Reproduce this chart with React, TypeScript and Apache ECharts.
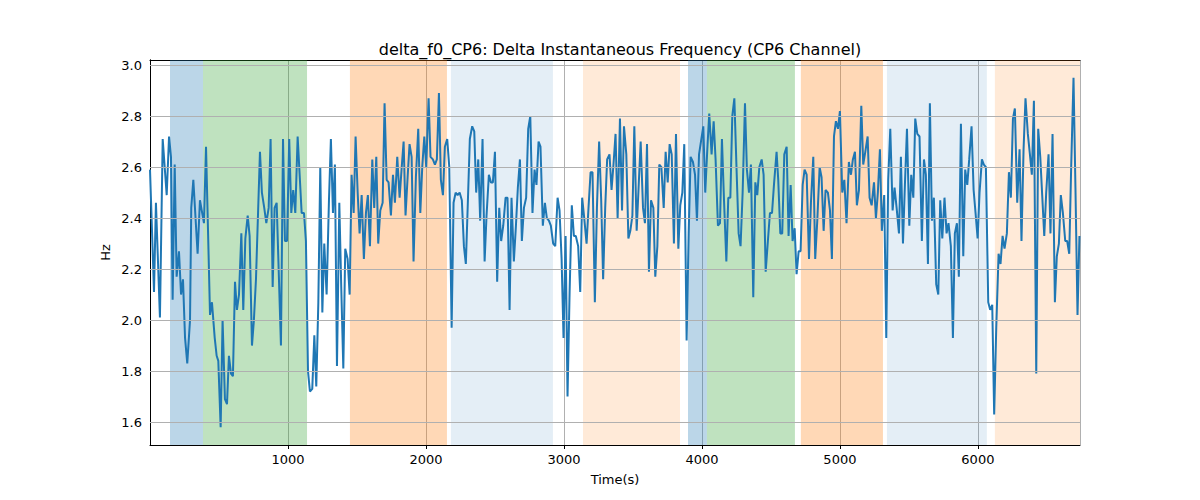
import React, { useEffect, useRef } from 'react'
import * as echarts from 'echarts'

const times = [0, 29, 43, 72, 92, 121, 138, 152, 164, 179, 193, 210, 225, 239, 254, 270, 290, 299, 314, 345, 362, 391, 406, 435, 449, 469, 483, 495, 512, 526, 543, 558, 572, 587, 601, 616, 630, 645, 662, 676, 691, 708, 722, 739, 753, 768, 797, 811, 828, 843, 860, 874, 889, 903, 918, 949, 964, 978, 993, 1009, 1024, 1038, 1053, 1070, 1099, 1116, 1130, 1145, 1159, 1176, 1191, 1205, 1220, 1234, 1249, 1263, 1280, 1297, 1311, 1326, 1340, 1355, 1372, 1386, 1401, 1415, 1432, 1447, 1461, 1476, 1490, 1505, 1519, 1534, 1550, 1565, 1579, 1594, 1611, 1625, 1640, 1654, 1669, 1686, 1700, 1715, 1729, 1746, 1761, 1775, 1792, 1809, 1823, 1838, 1852, 1867, 1881, 1896, 1910, 1927, 1944, 1959, 1973, 1988, 2002, 2019, 2033, 2050, 2065, 2079, 2094, 2108, 2123, 2137, 2154, 2169, 2186, 2200, 2215, 2229, 2244, 2260, 2275, 2289, 2304, 2318, 2335, 2350, 2364, 2379, 2393, 2410, 2425, 2439, 2456, 2471, 2485, 2500, 2516, 2531, 2545, 2560, 2577, 2591, 2606, 2620, 2637, 2652, 2666, 2681, 2695, 2710, 2726, 2741, 2756, 2772, 2787, 2801, 2816, 2830, 2847, 2862, 2876, 2891, 2905, 2922, 2937, 2954, 2968, 2983, 2997, 3012, 3026, 3041, 3057, 3072, 3086, 3103, 3118, 3132, 3147, 3164, 3178, 3193, 3207, 3224, 3239, 3255, 3270, 3284, 3299, 3313, 3330, 3345, 3359, 3374, 3389, 3406, 3421, 3435, 3452, 3467, 3481, 3496, 3510, 3527, 3541, 3556, 3573, 3587, 3602, 3616, 3631, 3648, 3662, 3677, 3691, 3706, 3723, 3737, 3752, 3766, 3781, 3797, 3812, 3829, 3843, 3858, 3872, 3889, 3904, 3918, 3935, 3950, 3964, 3979, 3993, 4010, 4024, 4039, 4053, 4070, 4085, 4099, 4116, 4131, 4145, 4160, 4177, 4191, 4206, 4220, 4235, 4251, 4266, 4280, 4295, 4312, 4326, 4341, 4355, 4372, 4387, 4401, 4416, 4433, 4447, 4462, 4478, 4493, 4508, 4522, 4541, 4553, 4568, 4582, 4597, 4614, 4628, 4643, 4657, 4672, 4686, 4701, 4715, 4730, 4744, 4759, 4776, 4790, 4807, 4821, 4836, 4853, 4867, 4882, 4896, 4913, 4928, 4942, 4957, 4971, 4986, 5000, 5017, 5032, 5048, 5065, 5080, 5094, 5109, 5123, 5138, 5155, 5169, 5184, 5201, 5215, 5230, 5247, 5261, 5275, 5290, 5304, 5321, 5336, 5350, 5365, 5382, 5396, 5411, 5428, 5442, 5457, 5471, 5486, 5503, 5517, 5532, 5546, 5561, 5577, 5594, 5609, 5623, 5638, 5652, 5667, 5681, 5698, 5713, 5727, 5742, 5758, 5773, 5787, 5804, 5819, 5833, 5848, 5862, 5877, 5894, 5908, 5923, 5937, 5954, 5969, 5983, 5998, 6012, 6029, 6043, 6058, 6075, 6089, 6104, 6118, 6133, 6150, 6164, 6179, 6193, 6210, 6225, 6239, 6254, 6268, 6285, 6302, 6316, 6331, 6345, 6362, 6377, 6391, 6406, 6423, 6437, 6452, 6466, 6481, 6495, 6512, 6526, 6541, 6558, 6572, 6587, 6601, 6616, 6633, 6647, 6662, 6676, 6693, 6707, 6722, 6736]

const values = [2.59, 2.11, 2.46, 2.01, 2.71, 2.49, 2.72, 2.64, 2.08, 2.61, 2.17, 2.27, 2.10, 2.16, 1.93, 1.83, 2.00, 2.44, 2.55, 2.26, 2.47, 2.38, 2.68, 2.02, 2.07, 1.93, 1.86, 1.84, 1.58, 2.00, 1.69, 1.67, 1.86, 1.79, 1.78, 2.15, 2.04, 2.10, 2.34, 2.04, 2.32, 2.41, 2.33, 1.90, 2.00, 2.16, 2.66, 2.50, 2.44, 2.38, 2.44, 2.71, 2.13, 2.44, 2.46, 1.90, 2.71, 2.31, 2.31, 2.71, 2.42, 2.51, 2.42, 2.72, 2.42, 2.42, 2.31, 1.80, 1.72, 1.73, 1.94, 1.74, 2.07, 2.60, 2.03, 2.30, 2.10, 2.47, 2.71, 2.42, 2.61, 1.82, 2.46, 2.13, 1.81, 2.28, 2.24, 2.10, 2.57, 2.42, 2.72, 2.50, 2.34, 2.49, 2.24, 2.42, 2.49, 2.29, 2.63, 2.44, 2.64, 2.30, 2.43, 2.46, 2.85, 2.55, 2.54, 2.41, 2.57, 2.46, 2.64, 2.48, 2.59, 2.70, 2.41, 2.56, 2.69, 2.64, 2.23, 2.56, 2.75, 2.42, 2.60, 2.72, 2.60, 2.87, 2.64, 2.63, 2.61, 2.63, 2.89, 2.55, 2.49, 2.68, 2.71, 2.60, 1.97, 2.46, 2.50, 2.49, 2.50, 2.47, 2.29, 2.22, 2.47, 2.71, 2.76, 2.74, 2.50, 2.63, 2.39, 2.71, 2.23, 2.41, 2.57, 2.54, 2.54, 2.66, 2.15, 2.44, 2.31, 2.37, 2.48, 2.48, 2.04, 2.48, 2.23, 2.37, 2.52, 2.63, 2.31, 2.44, 2.48, 2.75, 2.80, 2.42, 2.59, 2.53, 2.70, 2.68, 2.37, 2.46, 2.40, 2.39, 2.37, 2.30, 2.29, 2.48, 2.43, 2.24, 1.93, 2.33, 1.70, 2.11, 2.45, 2.33, 2.33, 2.29, 2.11, 2.48, 2.40, 2.30, 2.44, 2.58, 2.58, 2.07, 2.44, 2.70, 2.47, 2.16, 2.44, 2.63, 2.65, 2.51, 2.61, 2.73, 2.40, 2.79, 2.43, 2.76, 2.65, 2.32, 2.35, 2.41, 2.76, 2.35, 2.52, 2.70, 2.44, 2.38, 2.69, 2.19, 2.47, 2.44, 2.17, 2.29, 2.61, 2.60, 2.44, 2.66, 2.54, 2.69, 2.65, 2.30, 2.73, 2.28, 2.45, 2.50, 2.69, 1.92, 2.34, 2.64, 2.62, 2.57, 2.39, 2.65, 2.70, 2.76, 2.50, 2.67, 2.81, 2.65, 2.78, 2.63, 2.37, 2.38, 2.71, 2.47, 2.23, 2.48, 2.48, 2.80, 2.87, 2.59, 2.34, 2.29, 2.50, 2.85, 2.59, 2.50, 2.61, 2.09, 2.54, 2.49, 2.60, 2.63, 2.57, 2.19, 2.31, 2.42, 2.42, 2.53, 2.66, 2.55, 2.34, 2.34, 2.65, 2.68, 2.33, 2.53, 2.31, 2.36, 2.18, 2.27, 2.27, 2.53, 2.59, 2.57, 2.24, 2.46, 2.64, 2.24, 2.39, 2.60, 2.56, 2.35, 2.51, 2.50, 2.43, 2.24, 2.72, 2.78, 2.75, 2.82, 2.50, 2.55, 2.38, 2.62, 2.57, 2.63, 2.66, 2.45, 2.51, 2.84, 2.61, 2.66, 2.72, 2.48, 2.45, 2.54, 2.40, 2.50, 2.67, 2.35, 2.49, 1.93, 2.55, 2.75, 2.43, 2.52, 2.44, 2.34, 2.64, 2.30, 2.53, 2.75, 2.37, 2.57, 2.48, 2.79, 2.73, 2.72, 2.31, 2.63, 2.57, 2.22, 2.85, 2.39, 2.48, 2.14, 2.10, 2.47, 2.32, 2.48, 2.34, 2.38, 2.29, 1.93, 2.34, 2.38, 2.17, 2.77, 2.25, 2.59, 2.53, 2.63, 2.76, 2.51, 2.42, 2.32, 2.50, 2.63, 2.61, 2.60, 2.07, 2.04, 2.06, 1.63, 1.97, 2.26, 2.22, 2.33, 2.28, 2.34, 2.58, 2.48, 2.79, 2.83, 2.46, 2.67, 2.31, 2.67, 2.87, 2.73, 2.65, 2.57, 2.86, 1.79, 2.75, 2.64, 2.49, 2.33, 2.50, 2.65, 2.34, 2.73, 2.07, 2.25, 2.30, 2.49, 2.42, 2.31, 2.31, 2.26, 2.60, 2.95, 2.52, 2.02, 2.33]

// shaded phases
const spanStarts = [145, 384, 1449, 2181, 3138, 3899, 4036, 4717, 5341, 6123]
const spanEnds = [384, 1138, 2152, 2920, 3841, 4036, 4674, 5312, 6065, 6740]
const spanColors = [
  'rgba(31,119,180,0.3)', 'rgba(44,160,44,0.3)', 'rgba(255,127,14,0.3)', 'rgba(31,119,180,0.12)',
  'rgba(255,127,14,0.16)', 'rgba(31,119,180,0.3)', 'rgba(44,160,44,0.3)', 'rgba(255,127,14,0.3)',
  'rgba(31,119,180,0.12)', 'rgba(255,127,14,0.16)'
]

const yTicks = [1.6, 1.8, 2.0, 2.2, 2.4, 2.6, 2.8, 3.0]

const App: React.FC = () => {
  const chartRef = useRef<HTMLDivElement>(null)

  useEffect(() => {
    document.body.style.margin = '0'
    if (!chartRef.current) return
    const chart = echarts.init(chartRef.current, null, { renderer: 'svg' })
    const font = 'DejaVu Sans'

    chart.setOption({
      animation: false,
      textStyle: { fontFamily: font },
      title: {
        text: 'delta_f0_CP6: Delta Instantaneous Frequency (CP6 Channel)',
        left: 615, top: 36, textAlign: 'center',
        textStyle: { fontSize: 16, fontWeight: 'normal', color: '#000', fontFamily: font }
      },
      grid: { left: 150, right: 120, top: 60, bottom: 55 },
      xAxis: [
        {
          type: 'value', min: 0, max: 6740, interval: 1000,
          name: 'Time(s)', nameLocation: 'middle', nameGap: 28,
          nameTextStyle: { fontSize: 13, color: '#000' },
          axisLine: { onZero: false, lineStyle: { color: '#000' } },
          axisTick: { length: 4, lineStyle: { color: '#000' } },
          axisLabel: { fontSize: 13, color: '#000', showMinLabel: false, showMaxLabel: false, formatter: (v: number) => String(v) },
          splitLine: { show: true, lineStyle: { color: '#b0b0b0', width: 1 } }
        },
        {
          type: 'value', position: 'top', min: 0, max: 6740,
          axisLine: { onZero: false, lineStyle: { color: '#000' } },
          axisTick: { show: false }, axisLabel: { show: false }, splitLine: { show: false }
        }
      ],
      yAxis: [
        {
          type: 'value', min: 1.51, max: 3.02,
          name: 'Hz', nameLocation: 'middle', nameGap: 38,
          nameTextStyle: { fontSize: 13, color: '#000' },
          axisLine: { show: true, lineStyle: { color: '#000' } },
          axisTick: { show: false },
          axisLabel: { show: false },
          splitLine: { show: false }
        },
        {
          type: 'value', position: 'right', min: 1.51, max: 3.02,
          axisLine: { show: true, lineStyle: { color: '#000' } },
          axisTick: { show: false }, axisLabel: { show: false }, splitLine: { show: false }
        }
      ],
      series: [
        {
          type: 'line',
          data: times.map((t, i) => [t, values[i]]),
          showSymbol: false,
          lineStyle: { color: '#1f77b4', width: 2 },
          z: 3,
          markArea: {
            silent: true,
            data: spanStarts.map((s, i) => [
              { xAxis: s, itemStyle: { color: spanColors[i] } },
              { xAxis: spanEnds[i] }
            ])
          }
        },
        {
          type: 'line',
          data: [],
          z: 2,
          markLine: {
            silent: true,
            symbol: 'none',
            lineStyle: { color: '#b0b0b0', type: 'solid', width: 1 },
            label: {
              position: 'start', fontSize: 13, color: '#000', distance: 8,
              formatter: (p: any) => Number(p.value).toFixed(1)
            },
            data: yTicks.map((v) => ({ yAxis: v }))
          }
        }
      ]
    })

    return () => chart.dispose()
  }, [])

  return <div ref={chartRef} style={{ width: 1200, height: 500 }} />
}

export default App
